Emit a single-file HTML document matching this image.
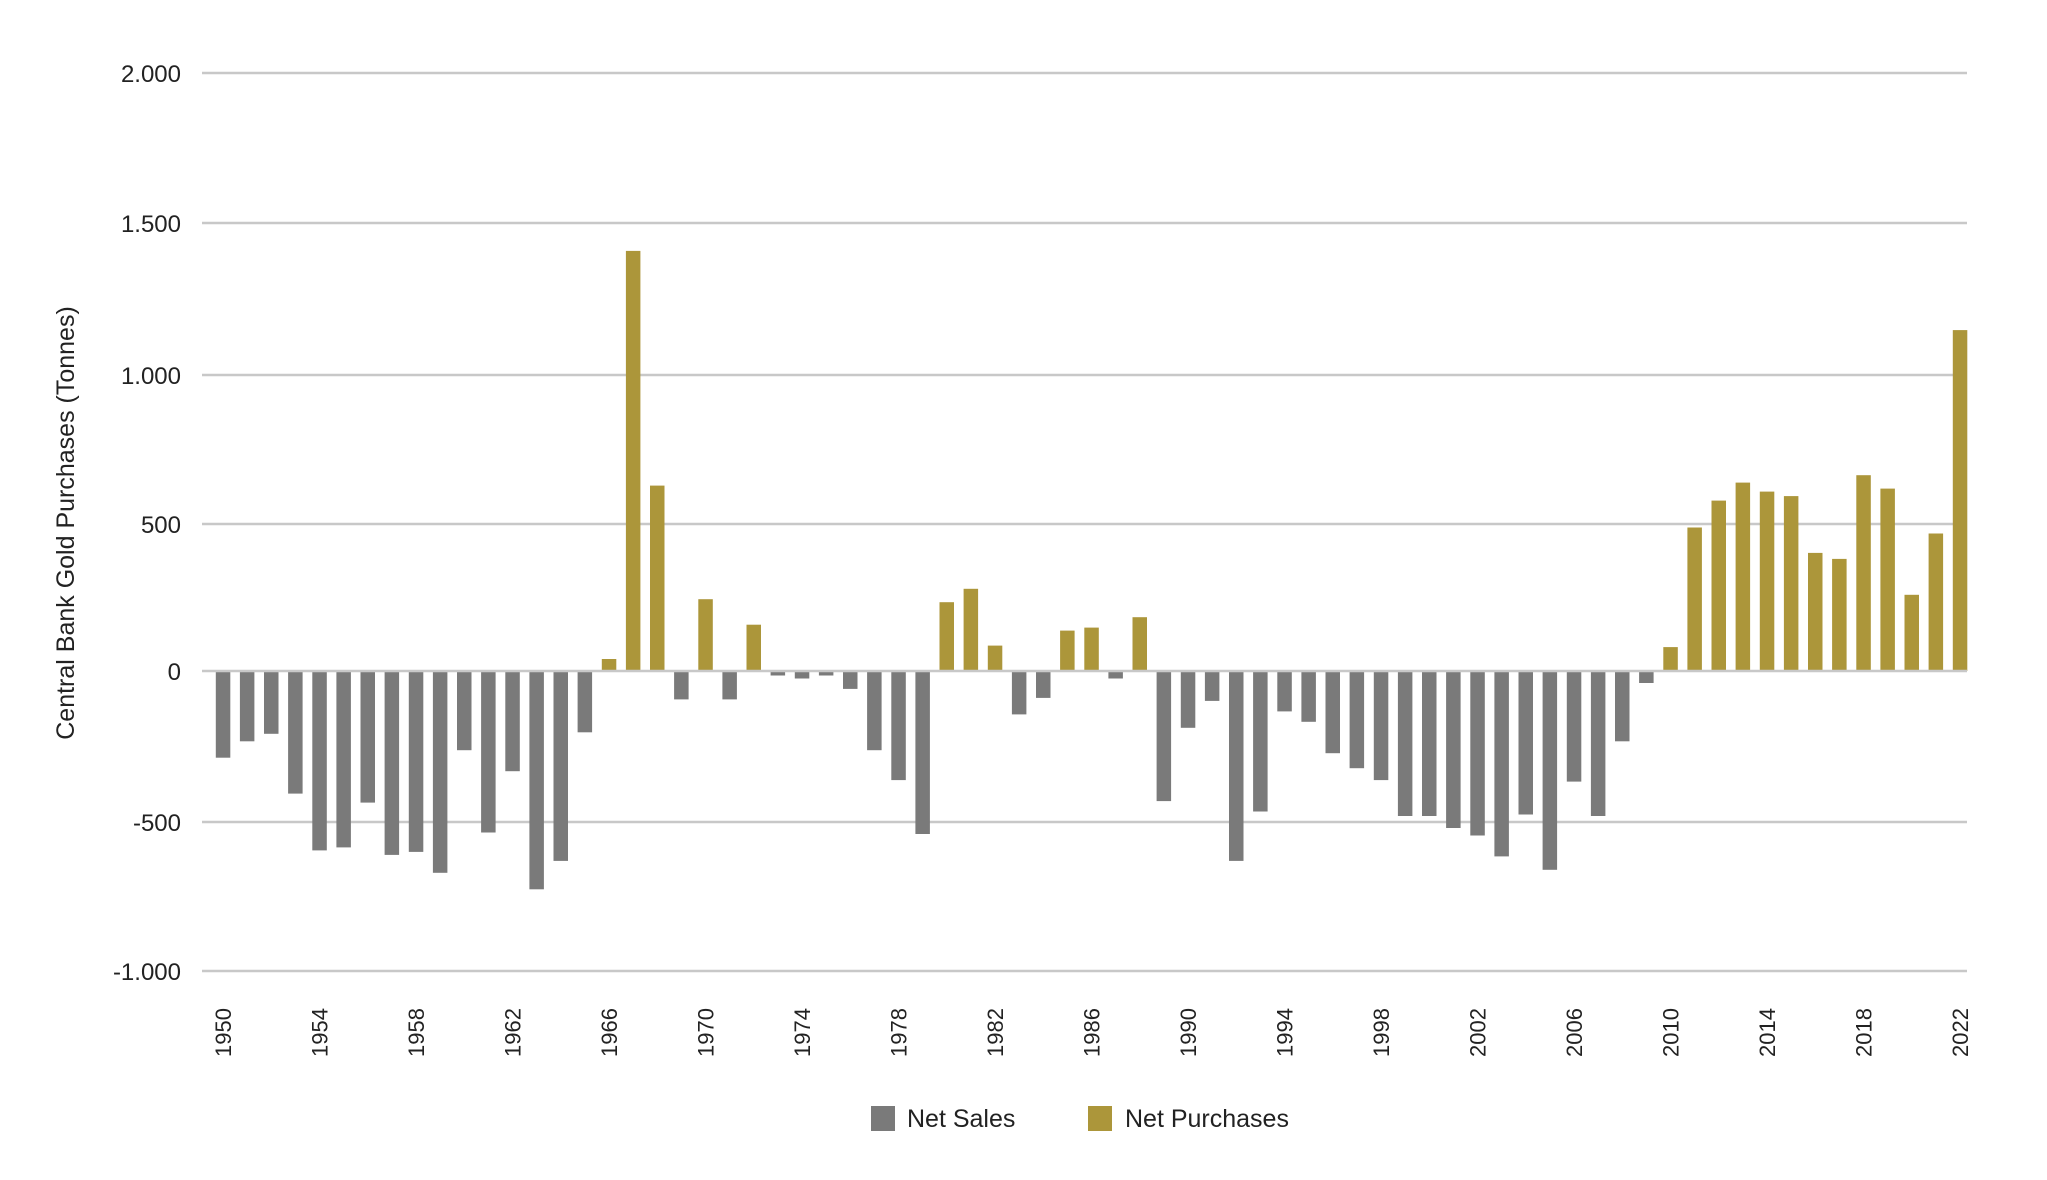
<!DOCTYPE html>
<html><head><meta charset="utf-8"><style>
html,body{margin:0;padding:0;background:#fff;}
svg{display:block;font-family:"Liberation Sans",sans-serif;}
</style></head><body>
<svg width="2047" height="1180" viewBox="0 0 2047 1180" xmlns="http://www.w3.org/2000/svg">
<g stroke="#c8c8c8" stroke-width="2.5">
<line x1="202" y1="73" x2="1967" y2="73"/>
<line x1="202" y1="223" x2="1967" y2="223"/>
<line x1="202" y1="375" x2="1967" y2="375"/>
<line x1="202" y1="524" x2="1967" y2="524"/>
<line x1="202" y1="822" x2="1967" y2="822"/>
<line x1="202" y1="971" x2="1967" y2="971"/>
</g>
<g font-size="24" fill="#222" text-anchor="end">
<text x="181" y="82">2.000</text>
<text x="181" y="232">1.500</text>
<text x="181" y="384">1.000</text>
<text x="181" y="533">500</text>
<text x="181" y="680">0</text>
<text x="181" y="831">-500</text>
<text x="181" y="980">-1.000</text>
</g>
<text transform="translate(74,523) rotate(-90)" text-anchor="middle" font-size="25" fill="#222">Central Bank Gold Purchases (Tonnes)</text>
<g fill="#7a7a7a">
<rect x="215.8" y="671" width="14.5" height="86.7"/>
<rect x="239.9" y="671" width="14.5" height="70.3"/>
<rect x="264.0" y="671" width="14.5" height="62.8"/>
<rect x="288.1" y="671" width="14.5" height="122.6"/>
<rect x="312.3" y="671" width="14.5" height="179.4"/>
<rect x="336.4" y="671" width="14.5" height="176.4"/>
<rect x="360.5" y="671" width="14.5" height="131.6"/>
<rect x="384.6" y="671" width="14.5" height="183.9"/>
<rect x="408.8" y="671" width="14.5" height="180.9"/>
<rect x="432.9" y="671" width="14.5" height="201.8"/>
<rect x="457.0" y="671" width="14.5" height="79.2"/>
<rect x="481.1" y="671" width="14.5" height="161.5"/>
<rect x="505.3" y="671" width="14.5" height="100.2"/>
<rect x="529.4" y="671" width="14.5" height="218.3"/>
<rect x="553.5" y="671" width="14.5" height="189.9"/>
<rect x="577.6" y="671" width="14.5" height="61.3"/>
<rect x="674.1" y="671" width="14.5" height="28.4"/>
<rect x="722.4" y="671" width="14.5" height="28.4"/>
<rect x="770.6" y="671" width="14.5" height="4.5"/>
<rect x="794.8" y="671" width="14.5" height="7.5"/>
<rect x="818.9" y="671" width="14.5" height="4.5"/>
<rect x="843.0" y="671" width="14.5" height="17.9"/>
<rect x="867.1" y="671" width="14.5" height="79.2"/>
<rect x="891.3" y="671" width="14.5" height="109.1"/>
<rect x="915.4" y="671" width="14.5" height="163"/>
<rect x="1011.9" y="671" width="14.5" height="43.4"/>
<rect x="1036.0" y="671" width="14.5" height="26.9"/>
<rect x="1108.4" y="671" width="14.5" height="7.5"/>
<rect x="1156.6" y="671" width="14.5" height="130.1"/>
<rect x="1180.8" y="671" width="14.5" height="56.8"/>
<rect x="1204.9" y="671" width="14.5" height="29.9"/>
<rect x="1229.0" y="671" width="14.5" height="189.9"/>
<rect x="1253.1" y="671" width="14.5" height="140.5"/>
<rect x="1277.3" y="671" width="14.5" height="40.4"/>
<rect x="1301.4" y="671" width="14.5" height="50.8"/>
<rect x="1325.5" y="671" width="14.5" height="82.2"/>
<rect x="1349.6" y="671" width="14.5" height="97.2"/>
<rect x="1373.8" y="671" width="14.5" height="109.1"/>
<rect x="1397.9" y="671" width="14.5" height="145"/>
<rect x="1422.0" y="671" width="14.5" height="145"/>
<rect x="1446.1" y="671" width="14.5" height="157"/>
<rect x="1470.3" y="671" width="14.5" height="164.5"/>
<rect x="1494.4" y="671" width="14.5" height="185.4"/>
<rect x="1518.5" y="671" width="14.5" height="143.5"/>
<rect x="1542.6" y="671" width="14.5" height="198.8"/>
<rect x="1566.8" y="671" width="14.5" height="110.6"/>
<rect x="1590.9" y="671" width="14.5" height="145"/>
<rect x="1615.0" y="671" width="14.5" height="70.3"/>
<rect x="1639.1" y="671" width="14.5" height="12"/>
</g>
<g fill="#ac963a">
<rect x="601.8" y="659" width="14.5" height="12"/>
<rect x="625.9" y="250.9" width="14.5" height="420.1"/>
<rect x="650.0" y="485.6" width="14.5" height="185.4"/>
<rect x="698.3" y="599.2" width="14.5" height="71.8"/>
<rect x="746.5" y="624.7" width="14.5" height="46.3"/>
<rect x="939.5" y="602.2" width="14.5" height="68.8"/>
<rect x="963.6" y="588.8" width="14.5" height="82.2"/>
<rect x="987.8" y="645.6" width="14.5" height="25.4"/>
<rect x="1060.1" y="630.6" width="14.5" height="40.4"/>
<rect x="1084.3" y="627.6" width="14.5" height="43.4"/>
<rect x="1132.5" y="617.2" width="14.5" height="53.8"/>
<rect x="1663.3" y="647.1" width="14.5" height="23.9"/>
<rect x="1687.4" y="527.5" width="14.5" height="143.5"/>
<rect x="1711.5" y="500.6" width="14.5" height="170.4"/>
<rect x="1735.6" y="482.6" width="14.5" height="188.4"/>
<rect x="1759.8" y="491.6" width="14.5" height="179.4"/>
<rect x="1783.9" y="496.1" width="14.5" height="174.9"/>
<rect x="1808.0" y="552.9" width="14.5" height="118.1"/>
<rect x="1832.1" y="558.9" width="14.5" height="112.1"/>
<rect x="1856.3" y="475.2" width="14.5" height="195.8"/>
<rect x="1880.4" y="488.6" width="14.5" height="182.4"/>
<rect x="1904.5" y="594.8" width="14.5" height="76.2"/>
<rect x="1928.6" y="533.5" width="14.5" height="137.5"/>
<rect x="1952.8" y="330.1" width="14.5" height="340.9"/>
</g>
<line x1="202" y1="671" x2="1967" y2="671" stroke="#c8c8c8" stroke-width="2.5"/>
<g font-size="22" fill="#222" text-anchor="end">
<text transform="translate(231,1008) rotate(-90)">1950</text>
<text transform="translate(327.5,1008) rotate(-90)">1954</text>
<text transform="translate(424,1008) rotate(-90)">1958</text>
<text transform="translate(520.5,1008) rotate(-90)">1962</text>
<text transform="translate(617,1008) rotate(-90)">1966</text>
<text transform="translate(713.5,1008) rotate(-90)">1970</text>
<text transform="translate(810,1008) rotate(-90)">1974</text>
<text transform="translate(906.5,1008) rotate(-90)">1978</text>
<text transform="translate(1003,1008) rotate(-90)">1982</text>
<text transform="translate(1099.5,1008) rotate(-90)">1986</text>
<text transform="translate(1196,1008) rotate(-90)">1990</text>
<text transform="translate(1292.5,1008) rotate(-90)">1994</text>
<text transform="translate(1389,1008) rotate(-90)">1998</text>
<text transform="translate(1485.5,1008) rotate(-90)">2002</text>
<text transform="translate(1582,1008) rotate(-90)">2006</text>
<text transform="translate(1678.5,1008) rotate(-90)">2010</text>
<text transform="translate(1775,1008) rotate(-90)">2014</text>
<text transform="translate(1871.5,1008) rotate(-90)">2018</text>
<text transform="translate(1968,1008) rotate(-90)">2022</text>
</g>
<rect x="871" y="1106" width="24" height="25" fill="#7a7a7a"/>
<text x="907" y="1127" font-size="25" fill="#222">Net Sales</text>
<rect x="1088" y="1106" width="24" height="25" fill="#ac963a"/>
<text x="1125" y="1127" font-size="25" fill="#222">Net Purchases</text>
</svg>
</body></html>
